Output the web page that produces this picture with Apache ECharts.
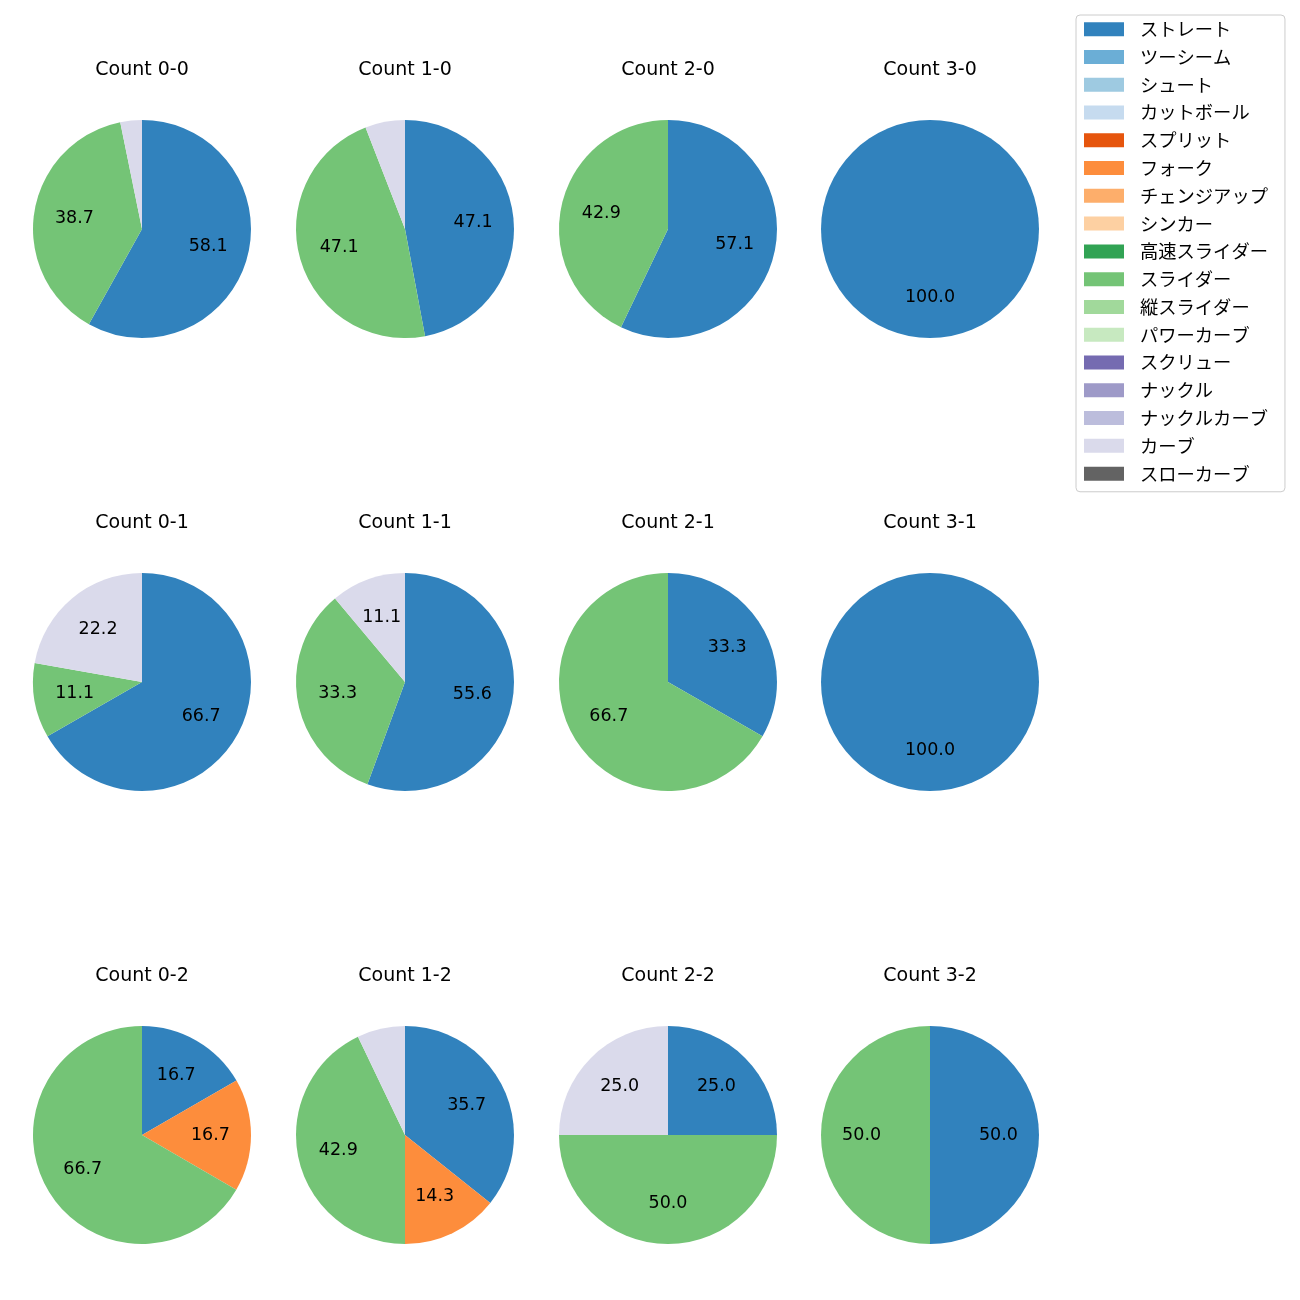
<!DOCTYPE html>
<html>
<head>
<meta charset="utf-8">
<script src="https://cdn.jsdelivr.net/npm/echarts@6/dist/echarts.min.js"></script>
<style>html,body{margin:0;padding:0;background:#fff;}#c{width:1300px;height:1300px;}</style>
</head>
<body>
<div id="c"></div>
<script>
const pitchTypes = ['ストレート','ツーシーム','シュート','カットボール','スプリット','フォーク','チェンジアップ','シンカー','高速スライダー','スライダー','縦スライダー','パワーカーブ','スクリュー','ナックル','ナックルカーブ','カーブ','スローカーブ'];
const pitchColors = ['#3182bd','#6baed6','#9ecae1','#c6dbef','#e6550d','#fd8d3c','#fdae6b','#fdd0a2','#31a354','#74c476','#a1d99b','#c7e9c0','#756bb1','#9e9ac8','#bcbddc','#dadaeb','#636363'];

const counts = ['Count 0-0','Count 1-0','Count 2-0','Count 3-0','Count 0-1','Count 1-1','Count 2-1','Count 3-1','Count 0-2','Count 1-2','Count 2-2','Count 3-2'];
// per-count [pitch type, percent]
const c00 = [['ストレート',58.1],['スライダー',38.7],['カーブ',3.2]];
const c10 = [['ストレート',47.1],['スライダー',47.1],['カーブ',5.9]];
const c20 = [['ストレート',57.1],['スライダー',42.9]];
const c30 = [['ストレート',100.0]];
const c01 = [['ストレート',66.7],['スライダー',11.1],['カーブ',22.2]];
const c11 = [['ストレート',55.6],['スライダー',33.3],['カーブ',11.1]];
const c21 = [['ストレート',33.3],['スライダー',66.7]];
const c31 = [['ストレート',100.0]];
const c02 = [['ストレート',16.7],['フォーク',16.7],['スライダー',66.7]];
const c12 = [['ストレート',35.7],['フォーク',14.3],['スライダー',42.9],['カーブ',7.1]];
const c22 = [['ストレート',25.0],['スライダー',50.0],['カーブ',25.0]];
const c32 = [['ストレート',50.0],['スライダー',50.0]];
const countData = [c00,c10,c20,c30,c01,c11,c21,c31,c02,c12,c22,c32];

const colX = [142, 405, 668, 930];
const rowY = [229, 682, 1135];
const R = 109;
const JFONT = '"Noto Sans CJK JP", "Noto Sans", sans-serif';
const LFONT = '"DejaVu Sans", "Noto Sans CJK JP", sans-serif';

const colorOf = n => pitchColors[pitchTypes.indexOf(n)];

const series = [];
// legend provider with all pitch types (invisible)
series.push({
  type: 'pie', center: [-500, -500], radius: [0, 0], silent: true, animation: false,
  label: {show: false}, labelLine: {show: false},
  data: pitchTypes.map(n => ({name: n, value: 1, itemStyle: {color: colorOf(n)}}))
});
const titles = [];
countData.forEach((d, i) => {
  const cx = colX[i % 4], cy = rowY[Math.floor(i / 4)];
  titles.push({
    text: counts[i], left: cx, top: cy - 168, textAlign: 'center', padding: 0,
    textStyle: {fontFamily: LFONT, fontSize: 19, fontWeight: 'normal', color: '#000'}
  });
  series.push({
    type: 'pie', center: [cx, cy], radius: [0, R], startAngle: 90, clockwise: true,
    animation: false, silent: true,
    label: {show: false}, labelLine: {show: false},
    data: d.map(([n, v]) => ({name: n, value: v, itemStyle: {color: colorOf(n)}}))
  });
  // label overlay: inside label at 0.6*R
  series.push({
    type: 'pie', center: [cx, cy], radius: [0, R * 1.2], startAngle: 90, clockwise: true,
    animation: false, silent: true,
    itemStyle: {color: 'rgba(0,0,0,0)'},
    labelLine: {show: false},
    label: {
      show: true, position: 'inside', color: '#000', fontFamily: LFONT, fontSize: 17.5,
      formatter: p => p.value >= 10 ? p.value.toFixed(1) : ''
    },
    data: d.map(([n, v]) => ({name: n, value: v}))
  });
});

const chart = echarts.init(document.getElementById('c'), null, {renderer: 'canvas'});
chart.setOption({
  backgroundColor: '#fff',
  title: titles,
  legend: {
    orient: 'vertical', left: 1076, top: 15,
    data: pitchTypes, selectedMode: false,
    icon: 'rect', itemWidth: 40, itemHeight: 14, itemGap: 9.5,
    borderColor: '#cccccc', borderWidth: 1, borderRadius: 4,
    padding: [5, 17, 9, 8],
    backgroundColor: '#fff',
    textStyle: {fontFamily: JFONT, fontSize: 18.3, color: '#000', padding: [0, 0, 0, 11], lineHeight: 18}
  },
  series: series
});
</script>
</body>
</html>
